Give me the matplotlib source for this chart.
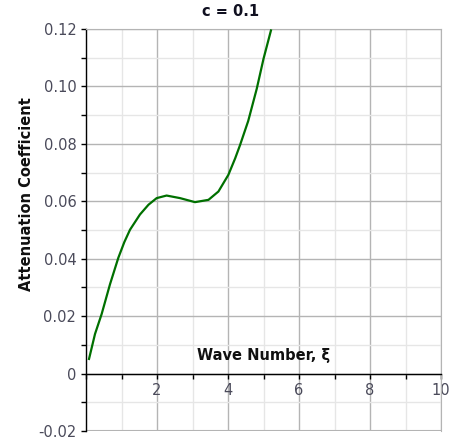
import matplotlib
matplotlib.use("Agg")
import matplotlib.pyplot as plt
from matplotlib.ticker import MultipleLocator, FixedLocator

# Data
wave_number = [0.085, 0.254, 0.44, 0.676, 0.91, 1.08, 1.24, 1.52, 1.76, 1.99,
               2.27, 2.65, 3.07, 3.45, 3.73, 3.87, 4.01, 4.20, 4.34, 4.57,
               4.81, 5.0, 5.21]
attenuation = [0.0051, 0.0138, 0.0207, 0.0311, 0.0403, 0.0458, 0.0501, 0.0554,
               0.0588, 0.0611, 0.0620, 0.0611, 0.0597, 0.0605, 0.0634, 0.0663,
               0.0692, 0.0749, 0.0796, 0.0880, 0.0992, 0.1096, 0.1195]
x_ticks = [2, 4, 6, 8, 10]
x_tick_labels = ["2", "4", "6", "8", "10"]
y_ticks = [-0.02, 0.0, 0.02, 0.04, 0.06, 0.08, 0.10, 0.12]
y_tick_labels = ["-0.02", "0", "0.02", "0.04", "0.06", "0.08", "0.10", "0.12"]
title = "c = 0.1"
x_label = "Wave Number, ξ"
y_label = "Attenuation Coefficient"

fig = plt.figure(figsize=(4.61, 4.44), dpi=100)
ax = fig.add_axes([86/461, 1-431/444, (441-86)/461, (431-29)/444])

ax.set_xlim(0, 10)
ax.set_ylim(-0.02, 0.12)

ax.xaxis.set_major_locator(FixedLocator(x_ticks))
ax.set_xticklabels(x_tick_labels)
ax.xaxis.set_minor_locator(MultipleLocator(1))
ax.yaxis.set_major_locator(FixedLocator(y_ticks))
ax.set_yticklabels(y_tick_labels)
ax.yaxis.set_minor_locator(MultipleLocator(0.01))

ax.grid(True, which="major", color="#b4b4b4", linewidth=1.0, zorder=0)
ax.grid(True, which="minor", color="#e6e6e6", linewidth=1.0, zorder=0)
ax.set_axisbelow(True)

ax.spines["left"].set_position(("data", 0))
ax.spines["bottom"].set_position(("data", 0))
ax.spines["left"].set_color("black")
ax.spines["bottom"].set_color("black")
ax.spines["left"].set_linewidth(1.0)
ax.spines["bottom"].set_linewidth(1.0)
ax.spines["top"].set_color("#b4b4b4")
ax.spines["right"].set_color("#b4b4b4")
ax.axhline(-0.02, color="#b4b4b4", linewidth=1.5, zorder=1)

ax.tick_params(which="both", direction="out", length=3.5, width=1, color="black",
               labelsize=10.5, labelcolor="#4a4a5a")
ax.tick_params(axis="x", pad=3)

ax.plot(wave_number, attenuation, color="#007000", linewidth=1.6, zorder=3)

ax.text(5.0, 0.0062, x_label, ha="center", va="center", fontsize=10.5,
        fontweight="bold", color="#101010")
fig.text(27/461, 1-194/444, y_label, rotation=90, ha="center", va="center",
         fontsize=10.5, fontweight="bold", color="#101010")
fig.text(230.5/461, 1-12/444, title, ha="center", va="center", fontsize=10.5,
         fontweight="bold", color="#101020")

fig.savefig("out.png", dpi=100)
